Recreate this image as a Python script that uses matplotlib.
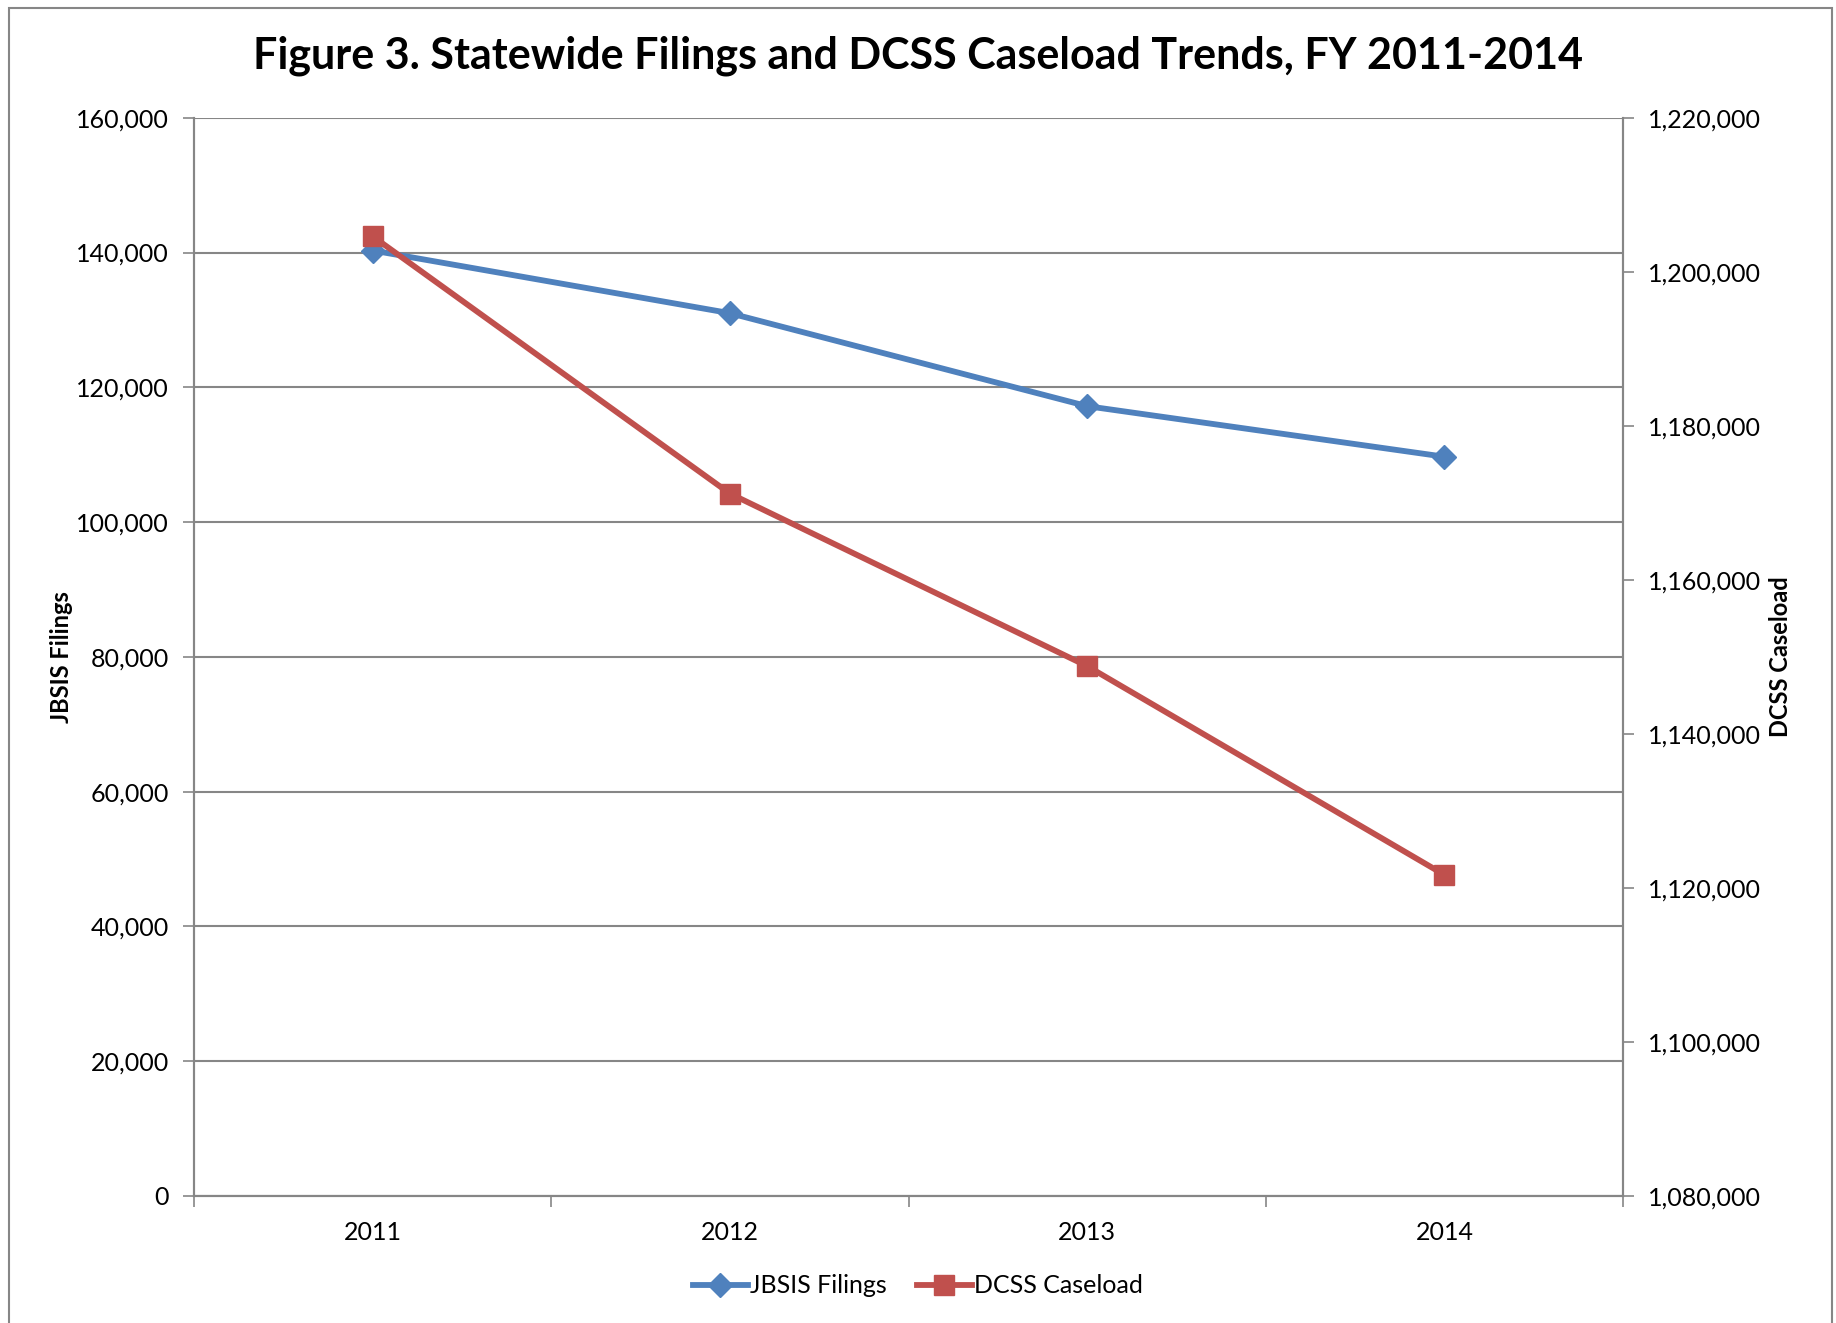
import matplotlib.pyplot as plt
from matplotlib.ticker import FuncFormatter, FixedLocator
from matplotlib.patches import Rectangle
from matplotlib.lines import Line2D

# data
years = ["2011", "2012", "2013", "2014"]
jbsis_filings = [140300, 131000, 117200, 109700]
dcss_caseload = [1204600, 1171200, 1148800, 1121700]

blue = "#4F81BD"
red = "#C0504D"
grid = "#868686"

plt.rcParams['font.family'] = ['Lato', 'DejaVu Sans']

fig = plt.figure(figsize=(18.36, 13.23), dpi=100)
ax = fig.add_axes([0.1057, 0.096, 0.7783, 0.815])
ax2 = ax.twinx()

x = list(range(len(years)))
ax.plot(x, jbsis_filings, color=blue, lw=4.2, marker="D", ms=12,
        markeredgecolor=blue, solid_capstyle="round", zorder=3)
ax2.plot(x, dcss_caseload, color=red, lw=4.2, marker="s", ms=15,
         markeredgecolor=red, solid_capstyle="round", zorder=3)

ax.set_xlim(-0.5, len(years) - 0.5)
ax.set_ylim(0, 160000)
ax2.set_ylim(1080000, 1220000)
ax.set_yticks(range(0, 160001, 20000))
ax2.set_yticks(range(1080000, 1220001, 20000))

fmt = FuncFormatter(lambda v, p: f"{int(v):,}")
ax.yaxis.set_major_formatter(fmt)
ax2.yaxis.set_major_formatter(fmt)

ax.set_xticks(x)
ax.set_xticklabels(years)
ax.xaxis.set_minor_locator(FixedLocator([-0.5, 0.5, 1.5, 2.5, 3.5]))
ax.tick_params(axis="x", which="major", length=0, pad=18, labelsize=18)
ax.tick_params(axis="x", which="minor", length=8, width=1.2, color=grid)
ax.tick_params(axis="y", length=8, width=1.2, color=grid, labelsize=18, pad=10)
ax2.tick_params(axis="y", length=8, width=1.2, color=grid, labelsize=18, pad=10)

ax.grid(axis="y", color=grid, lw=1.5)
ax.set_axisbelow(True)

for a in (ax, ax2):
    a.spines["top"].set_visible(False)
    for s in ("left", "right", "bottom"):
        a.spines[s].set_color(grid)
        a.spines[s].set_linewidth(1.5)

ax.set_ylabel("JBSIS Filings", fontsize=17, fontweight="bold", labelpad=2)
ax2.set_ylabel("DCSS Caseload", fontsize=17, fontweight="bold", labelpad=6)

fig.text(0.5, 0.958, "Figure 3. Statewide Filings and DCSS Caseload Trends, FY 2011-2014",
         ha="center", va="center", fontsize=31, fontweight="bold")

handles = [
    Line2D([], [], color=blue, lw=4.2, marker="D", ms=12, markeredgecolor=blue),
    Line2D([], [], color=red, lw=4.2, marker="s", ms=15, markeredgecolor=red),
]
fig.legend(handles, ["JBSIS Filings", "DCSS Caseload"], loc="center",
           bbox_to_anchor=(0.5, 0.028), ncol=2, frameon=False, fontsize=18,
           handlelength=2.2, handletextpad=0.1, columnspacing=1.2)

# outer chart border
fig.add_artist(Rectangle((0.005, -0.01), 0.993, 1.004, transform=fig.transFigure,
                         fill=False, edgecolor=grid, lw=1.5))

fig.savefig("out.png", dpi=100)
